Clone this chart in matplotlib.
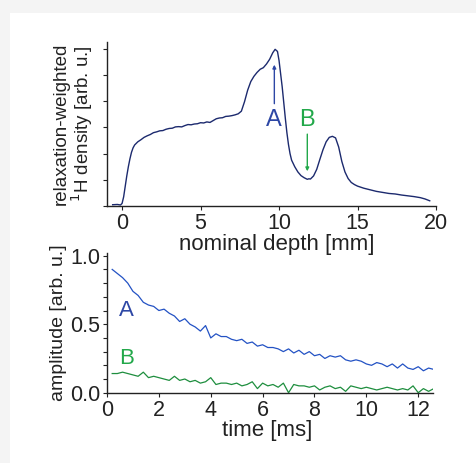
import matplotlib.pyplot as plt
from matplotlib.patches import Rectangle
from matplotlib.ticker import MultipleLocator

plt.rcParams['font.family'] = ['Liberation Sans', 'DejaVu Sans']

# depth profile (top panel)
depth = [-0.6, -0.3, -0.1, 0.0, 0.1, 0.2, 0.3, 0.4, 0.5, 0.6, 0.7, 0.8,
         1.0, 1.2, 1.4, 1.6, 1.8, 2.0, 2.2, 2.4, 2.6, 2.8, 3.0, 3.2, 3.4,
         3.6, 3.8, 4.0, 4.2, 4.4, 4.6, 4.8, 5.0, 5.2, 5.4, 5.6, 5.8, 6.0,
         6.2, 6.4, 6.6, 6.8, 7.0, 7.2, 7.4, 7.6, 7.8, 8.0, 8.2, 8.4, 8.6,
         8.8, 9.0, 9.2, 9.4, 9.6, 9.75, 9.9, 10.0, 10.1, 10.2, 10.3, 10.4,
         10.5, 10.6, 10.7, 10.8, 11.0, 11.2, 11.4, 11.6, 11.8, 11.9, 12.0,
         12.2, 12.4, 12.6, 12.8, 13.0, 13.2, 13.4, 13.6, 13.8, 14.0, 14.2,
         14.4, 14.6, 14.8, 15.0, 15.4, 15.8, 16.2, 16.6, 17.0, 17.4, 17.8,
         18.2, 18.6, 19.0, 19.3, 19.6]
density = [0.05, 0.06, 0.04, 0.10, 0.35, 0.75, 1.15, 1.50, 1.80, 2.05, 2.22, 2.33,
           2.45, 2.53, 2.62, 2.68, 2.73, 2.80, 2.83, 2.87, 2.88, 2.93, 2.96, 2.97, 3.02,
           3.03, 3.02, 3.07, 3.11, 3.10, 3.13, 3.14, 3.18, 3.17, 3.21, 3.19, 3.26, 3.33,
           3.36, 3.37, 3.42, 3.43, 3.45, 3.48, 3.52, 3.62, 3.98, 4.42, 4.75, 4.95, 5.10,
           5.22, 5.28, 5.42, 5.60, 5.85, 5.98, 5.90, 5.55, 5.05, 4.55, 3.95, 3.35,
           2.80, 2.35, 2.00, 1.75, 1.50, 1.30, 1.16, 1.08, 1.02, 1.04, 1.03,
           1.15, 1.40, 1.78, 2.15, 2.45, 2.62, 2.66, 2.60, 2.25, 1.70, 1.30,
           1.05, 0.90, 0.82, 0.76, 0.68, 0.62, 0.56, 0.52, 0.48, 0.46, 0.42,
           0.39, 0.36, 0.32, 0.27, 0.20]

# decay curves (bottom panel)
time = [0.2 * (i + 1) for i in range(64)]
amp_a = [0.90, 0.87, 0.84, 0.80, 0.74, 0.71, 0.66, 0.64, 0.63, 0.60, 0.61, 0.58,
         0.56, 0.52, 0.54, 0.50, 0.48, 0.45, 0.49, 0.40, 0.43, 0.41, 0.41, 0.39,
         0.38, 0.39, 0.36, 0.37, 0.34, 0.35, 0.33, 0.33, 0.32, 0.30, 0.32, 0.29,
         0.31, 0.28, 0.30, 0.27, 0.28, 0.25, 0.27, 0.26, 0.27, 0.24, 0.23, 0.24,
         0.23, 0.21, 0.20, 0.22, 0.21, 0.19, 0.21, 0.18, 0.21, 0.18, 0.17, 0.19,
         0.16, 0.18, 0.17, 0.18]
amp_b = [0.14, 0.14, 0.15, 0.14, 0.13, 0.12, 0.15, 0.11, 0.12, 0.11, 0.10, 0.09,
         0.12, 0.09, 0.10, 0.08, 0.09, 0.07, 0.08, 0.11, 0.06, 0.07, 0.07, 0.06,
         0.07, 0.05, 0.06, 0.08, 0.03, 0.07, 0.05, 0.06, 0.04, 0.07, 0.00, 0.06,
         0.05, 0.05, 0.04, 0.05, 0.02, 0.04, 0.05, 0.03, 0.04, 0.01, 0.05, 0.04,
         0.03, 0.04, 0.03, 0.02, 0.03, 0.04, 0.03, 0.02, 0.03, 0.02, 0.05, 0.00,
         0.03, 0.01, 0.03, 0.03]

navy = '#1c2a6e'
blue = '#2d47a5'
green = '#22a84a'

fig = plt.figure(figsize=(4.76, 4.63), dpi=100, facecolor='#f4f4f4')
fig.patches.append(Rectangle((10 / 476, 0), 1, 1 - 13 / 463, transform=fig.transFigure,
                             facecolor='white', edgecolor='none', zorder=-5))

ax1 = fig.add_axes([0.2248, 0.555, 0.6912, 0.3543])
ax2 = fig.add_axes([0.2248, 0.1518, 0.6849, 0.3018])

for ax in (ax1, ax2):
    ax.set_facecolor('none')
    for s in ('top', 'right'):
        ax.spines[s].set_visible(False)
    for s in ('left', 'bottom'):
        ax.spines[s].set_color('#222222')
        ax.spines[s].set_linewidth(1.0)
    ax.tick_params(direction='out', length=3, width=0.8, color='#222222',
                   labelsize=15.5, pad=2, labelcolor='#222222')
    ax.tick_params(which='minor', direction='out', length=3, width=0.8, color='#222222')

ax1.plot(depth, density, color=navy, lw=1.0)
ax1.set_xlim(-0.96, 20)
ax1.set_ylim(0, 6.26)
ax1.set_xticks([0, 5, 10, 15, 20])
ax1.set_yticks(range(7))
ax1.set_yticklabels([])
ax1.set_xlabel('nominal depth [mm]', fontsize=16, color='#222222')
ax1.xaxis.set_label_coords(0.517, -0.17)
ax1.set_ylabel('relaxation-weighted\n$^1$H density [arb. u.]', fontsize=13.5,
               color='#222222', linespacing=0.95, labelpad=4)
ax1.annotate('', xy=(9.7, 5.5), xytext=(9.7, 3.8),
             arrowprops=dict(arrowstyle='-|>', color=blue, lw=1.0, mutation_scale=5))
ax1.text(9.65, 3.3, 'A', color=blue, fontsize=17, ha='center', va='center')
ax1.annotate('', xy=(11.8, 1.22), xytext=(11.8, 2.85),
             arrowprops=dict(arrowstyle='-|>', color=green, lw=1.0, mutation_scale=5))
ax1.text(11.8, 3.3, 'B', color=green, fontsize=17, ha='center', va='center')

ax2.plot(time, amp_a, color='#2352c4', lw=0.9)
ax2.plot(time, amp_b, color='#1e8e3e', lw=0.9)
ax2.set_xlim(0, 12.57)
ax2.set_ylim(0, 1.02)
ax2.set_xticks(range(0, 13, 2))
ax2.set_yticks([0, 0.5, 1.0])
ax2.set_yticklabels(['0.0', '0.5', '1.0'])
ax2.yaxis.set_minor_locator(MultipleLocator(0.1))
ax2.set_xlabel('time [ms]', fontsize=16, color='#222222')
ax2.xaxis.set_label_coords(0.49, -0.195)
ax2.set_ylabel('amplitude [arb. u.]', fontsize=14, color='#222222', labelpad=2)
ax2.text(0.75, 0.60, 'A', color=blue, fontsize=16, ha='center', va='center')
ax2.text(0.75, 0.25, 'B', color=green, fontsize=16, ha='center', va='center')

fig.savefig('out.png', dpi=100, facecolor=fig.get_facecolor())
